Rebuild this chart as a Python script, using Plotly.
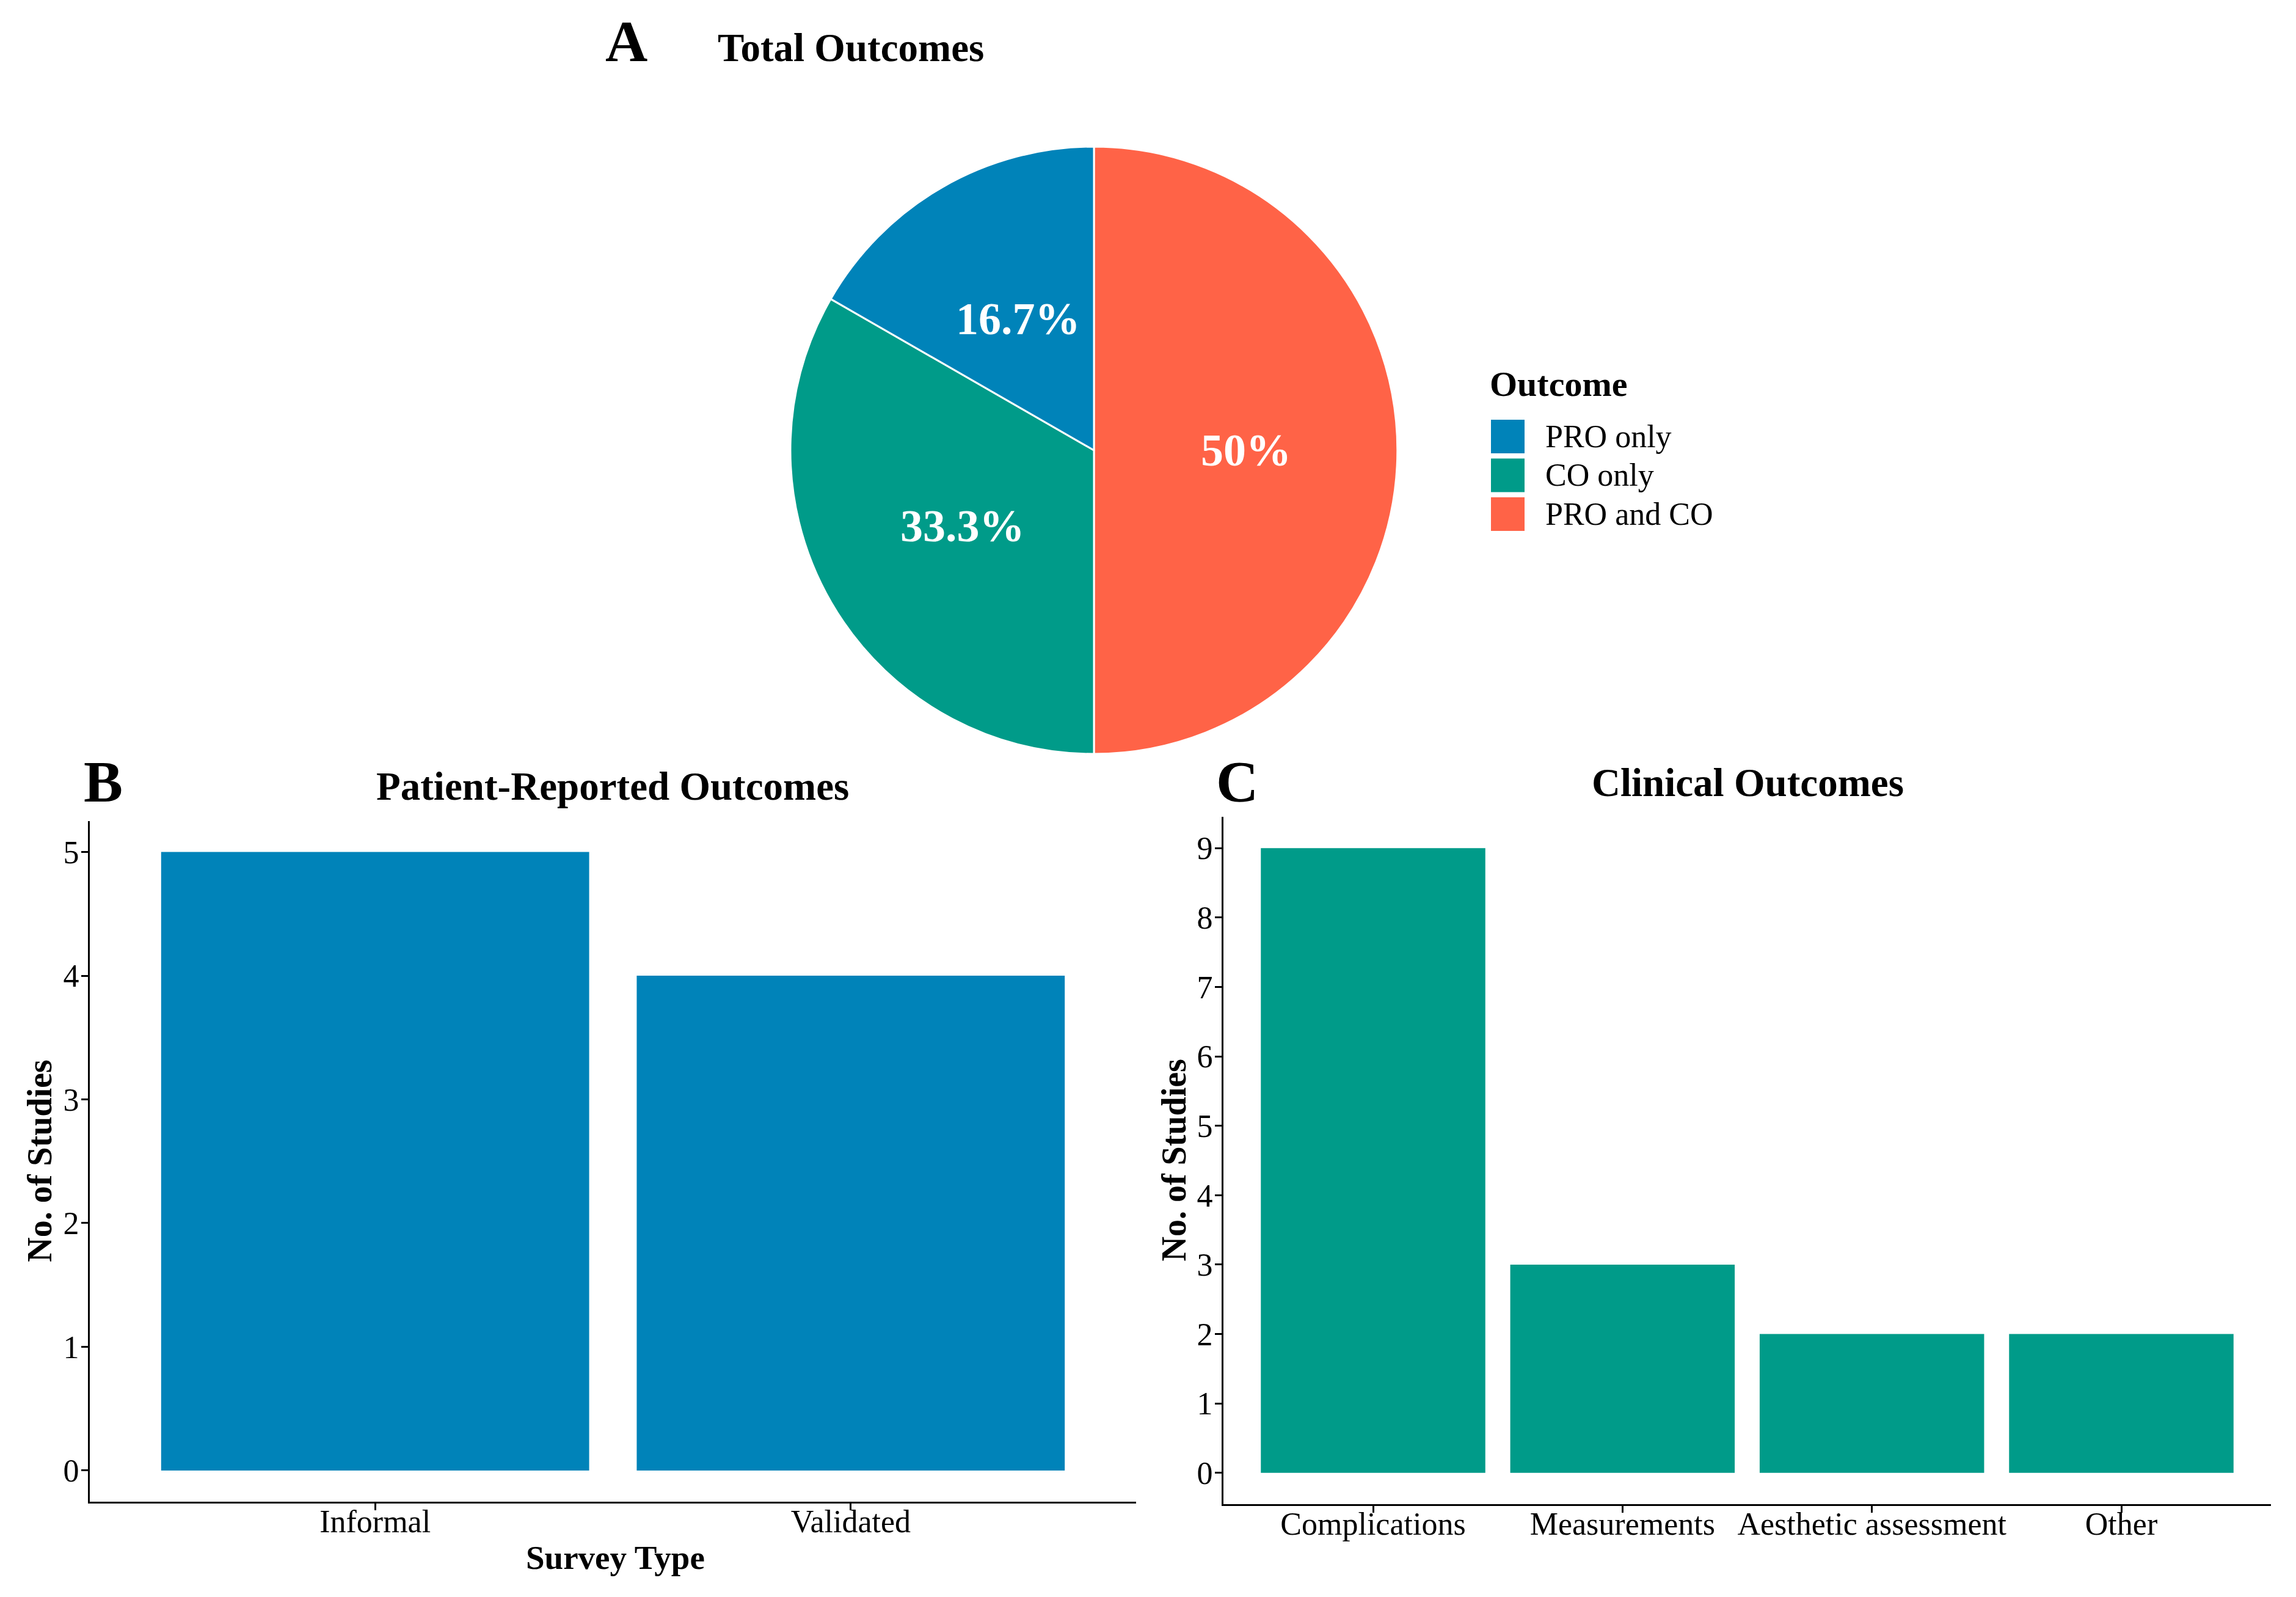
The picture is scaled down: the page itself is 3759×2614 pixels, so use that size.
import plotly.graph_objects as go
import math

# ---------------- data ----------------
outcome_labels = ["PRO only", "CO only", "PRO and CO"]
outcome_pct = [16.7, 33.3, 50.0]
outcome_text = ["16.7%", "33.3%", "50%"]
outcome_colors = ["#0083B9", "#009B89", "#FF6347"]

pro_categories = ["Informal", "Validated"]
pro_counts = [5, 4]

co_categories = ["Complications", "Measurements", "Aesthetic assessment", "Other"]
co_counts = [9, 3, 2, 2]

pro_yticks = [0, 1, 2, 3, 4, 5]
co_yticks = [0, 1, 2, 3, 4, 5, 6, 7, 8, 9]

panel_titles = ["Total Outcomes", "Patient-Reported Outcomes", "Clinical Outcomes"]
panel_tags = ["A", "B", "C"]
legend_title = "Outcome"
y_title = "No. of Studies"
x_title_pro = "Survey Type"

# ---------------- layout geometry (pixels) ----------------
W, H = 3759, 2614
FONT = "Liberation Serif"


def px(x):
    return x / W


def py(y):
    return 1 - y / H


pie_cx, pie_cy, pie_r = 1791, 737, 497
B_x0, B_x1, B_y0, B_y1 = 147, 1860, 1344, 2457.5
C_x0, C_x1, C_y0, C_y1 = 2003, 3718, 1337, 2462

fig = go.Figure()

# ggplot-style pie: starts at 12 o'clock; slices drawn clockwise in reverse legend order
fig.add_trace(go.Pie(
    labels=outcome_labels[::-1],
    values=outcome_pct[::-1],
    sort=False,
    direction="clockwise",
    rotation=0,
    marker=dict(colors=outcome_colors[::-1], line=dict(color="white", width=3)),
    textinfo="none",
    showlegend=False,
    domain=dict(x=[px(pie_cx - pie_r), px(pie_cx + pie_r)],
                y=[py(pie_cy + pie_r), py(pie_cy - pie_r)]),
))

fig.add_trace(go.Bar(
    x=pro_categories, y=pro_counts, marker=dict(color=outcome_colors[0], line=dict(width=0)),
    xaxis="x", yaxis="y", showlegend=False,
))
fig.add_trace(go.Bar(
    x=co_categories, y=co_counts, marker=dict(color=outcome_colors[1], line=dict(width=0)),
    xaxis="x2", yaxis="y2", showlegend=False,
))

axis_common = dict(
    showline=True, linecolor="black", linewidth=3,
    ticks="outside", ticklen=11, tickwidth=3, tickcolor="black",
    showgrid=False, zeroline=False,
    tickfont=dict(family=FONT, size=52, color="black"),
    fixedrange=True,
)

annotations = []

# pie labels at half radius, at each slice's mid angle (counter-clockwise from 12 o'clock in legend order)
total = sum(outcome_pct)
cum = 0.0
for val, txt in zip(outcome_pct, outcome_text):
    mid = (cum + val / 2) / total * 2 * math.pi
    cum += val
    dx = -math.sin(mid) * pie_r * 0.5
    dy = math.cos(mid) * pie_r * 0.5
    annotations.append(dict(
        x=px(pie_cx + dx), y=py(pie_cy - dy), xref="paper", yref="paper",
        text=txt, showarrow=False, xanchor="center", yanchor="middle",
        font=dict(family=FONT, size=74, color="white", weight="bold"),
    ))

# tags and titles
tag_pos = [(1025, 67), (169, 1279), (2025, 1279)]
title_pos = [(1393, 78), (1003, 1287), (2861, 1281)]
for t, (x, y) in zip(panel_tags, tag_pos):
    annotations.append(dict(x=px(x), y=py(y), xref="paper", yref="paper", text=t,
                            showarrow=False, xanchor="center", yanchor="middle",
                            font=dict(family=FONT, size=96, color="black", weight="bold")))
for t, (x, y) in zip(panel_titles, title_pos):
    annotations.append(dict(x=px(x), y=py(y), xref="paper", yref="paper", text=t,
                            showarrow=False, xanchor="center", yanchor="middle",
                            font=dict(family=FONT, size=65, color="black", weight="bold")))

# axis titles
annotations.append(dict(x=px(1007), y=py(2549), xref="paper", yref="paper", text=x_title_pro,
                        showarrow=False, xanchor="center", yanchor="middle",
                        font=dict(family=FONT, size=55, color="black", weight="bold")))
for x, (y0, y1) in [(65, (B_y0, B_y1)), (1921, (C_y0, C_y1))]:
    annotations.append(dict(x=px(x), y=py((y0 + y1) / 2), xref="paper", yref="paper",
                            text=y_title, textangle=-90, showarrow=False,
                            xanchor="center", yanchor="middle",
                            font=dict(family=FONT, size=56, color="black", weight="bold")))

# manual legend (large ggplot-style keys)
leg_x0, leg_top, sw, pitch = 2441, 687, 55, 63.5
annotations.append(dict(x=px(2437), y=py(628), xref="paper", yref="paper", text=legend_title,
                        showarrow=False, xanchor="left", yanchor="middle",
                        font=dict(family=FONT, size=58, color="black", weight="bold")))
shapes = []
for i, (lab, col) in enumerate(zip(outcome_labels, outcome_colors)):
    top = leg_top + i * pitch
    shapes.append(dict(type="rect", xref="paper", yref="paper",
                       x0=px(leg_x0), x1=px(leg_x0 + sw), y0=py(top + sw), y1=py(top),
                       fillcolor=col, line=dict(width=0)))
    annotations.append(dict(x=px(2528), y=py(top + sw / 2), xref="paper", yref="paper",
                            text=lab, showarrow=False, xanchor="left", yanchor="middle",
                            font=dict(family=FONT, size=52, color="black")))

fig.update_layout(
    width=W, height=H,
    margin=dict(l=0, r=0, t=0, b=0),
    paper_bgcolor="white", plot_bgcolor="white",
    font=dict(family=FONT, color="black"),
    bargap=0.1,
    showlegend=False,
    xaxis=dict(domain=[px(B_x0), px(B_x1)], anchor="y", type="category",
               range=[-0.6, len(pro_categories) - 1 + 0.6], ticklabelstandoff=-26, **axis_common),
    yaxis=dict(domain=[py(B_y1), py(B_y0)], anchor="x",
               range=[-0.25, 5.25], tickvals=pro_yticks, ticklabelstandoff=-7, **axis_common),
    xaxis2=dict(domain=[px(C_x0), px(C_x1)], anchor="y2", type="category",
                range=[-0.6, len(co_categories) - 1 + 0.6], ticklabelstandoff=-26, **axis_common),
    yaxis2=dict(domain=[py(C_y1), py(C_y0)], anchor="x2",
                range=[-0.45, 9.45], tickvals=co_yticks, ticklabelstandoff=-7, **axis_common),
    annotations=annotations,
    shapes=shapes,
)

fig.write_html("out.html", config={"displayModeBar": False},
               post_script="document.body.style.margin='0';")
